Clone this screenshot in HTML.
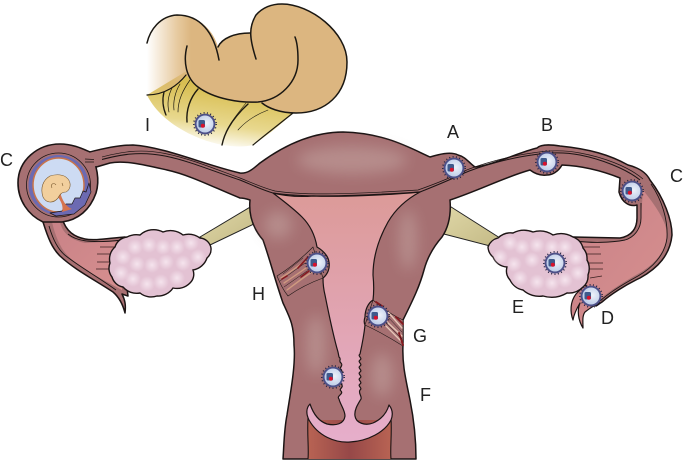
<!DOCTYPE html>
<html><head><meta charset="utf-8"><style>
html,body{margin:0;padding:0;background:#fff;width:684px;height:463px;overflow:hidden}
svg{display:block}
text{font-family:"Liberation Sans",sans-serif;font-size:18px;fill:#222}
</style></head><body>
<svg width="684" height="463" viewBox="0 0 684 463" xmlns="http://www.w3.org/2000/svg">
<defs>
<filter id="bl" x="-50%" y="-50%" width="200%" height="200%"><feGaussianBlur stdDeviation="7"/></filter>
<radialGradient id="eggG" cx="0.6" cy="0.45" r="0.6"><stop offset="0" stop-color="#eef2fa"/><stop offset="1" stop-color="#bccbe8"/></radialGradient>
<radialGradient id="blob"><stop offset="0" stop-color="#f6e6ef" stop-opacity=".95"/><stop offset="1" stop-color="#f6e6ef" stop-opacity="0"/></radialGradient>
<linearGradient id="cav" x1="0" y1="0" x2="0" y2="1"><stop offset="0" stop-color="#dc9a98"/><stop offset="1" stop-color="#e6aecb"/></linearGradient>
<linearGradient id="tan" x1="0" y1="0" x2="1" y2="0"><stop offset="0" stop-color="#dfb981" stop-opacity="0"/><stop offset="0.15" stop-color="#dfb981" stop-opacity="0.75"/><stop offset="0.22" stop-color="#dcb680"/><stop offset="1" stop-color="#dcb680"/></linearGradient>
<linearGradient id="yel" x1="0.6" y1="0.25" x2="0.4" y2="1"><stop offset="0" stop-color="#d8be52"/><stop offset="0.6" stop-color="#e8d88e"/><stop offset="1" stop-color="#ffffff"/></linearGradient>
<linearGradient id="lig" x1="0" y1="0" x2="1" y2="1"><stop offset="0" stop-color="#e0d8a8"/><stop offset="1" stop-color="#c4ba86"/></linearGradient>
<linearGradient id="vag" x1="0" y1="0" x2="1" y2="0"><stop offset="0" stop-color="#b86353"/><stop offset="0.5" stop-color="#964848"/><stop offset="1" stop-color="#b86353"/></linearGradient>
<linearGradient id="fim" x1="0" y1="0" x2="1" y2="1"><stop offset="0" stop-color="#c98287"/><stop offset="1" stop-color="#d68f8f"/></linearGradient>
<g id="egg">
<circle r="11.2" fill="none" stroke="#23233f" stroke-width="1.5" stroke-dasharray="1 2.4"/>
<circle r="10.4" fill="#4d5088"/>
<circle r="8.5" fill="url(#eggG)"/>
<rect x="-6.500" y="-4" width="6.500" height="7.500" rx="1.500" fill="#3f5a8c"/>
<circle cx="-2.200" cy="1.800" r="2" fill="#d8122c"/>
</g>
</defs>

<!-- Omentum / bowel -->
<path d="M147 95 C160 122 195 140 223 145 C235 147 245 147 253 145 C268 135 280 125 293 113 L267 100 L185 72 Z" fill="url(#yel)"/>
<g fill="none" stroke="#1e1a10" stroke-linecap="round">
<path d="M164 92 C162 100 163 108 166 115" stroke-width="1.3"/>
<path d="M172 88 C168 96 167 104 169 112" stroke-width="0.7"/>
<path d="M180 84 C175 92 173 102 174 110" stroke-width="0.7"/>
<path d="M190 80 C183 90 178 100 178 112" stroke-width="0.7"/>
<path d="M198 89 C190 98 186 110 187 122" stroke-width="1.4"/>
<path d="M246 103 C238 113 230 123 226 132" stroke-width="0.6"/>
<path d="M248 104 C235 116 225 130 222 145" stroke-width="1.4"/>
<path d="M268 110 C255 115 245 122 238 130" stroke-width="0.6"/>
<path d="M293 113 C278 125 265 135 253 145" stroke-width="1.2"/>
</g>
<path d="M147 43 C150 30 160 16 177 15 C200 15 214 32 218 47 C222 38 235 33 250 33 C250 15 265 4 282 4 C310 4 347 32 347 62 C347 95 325 113 296 113 C280 113 268 108 262 103 C245 102 225 102 210 94 C197 88 190 80 186 75 C178 85 165 95 147 95 Z" fill="url(#tan)"/>
<g fill="none" stroke="#1a1712" stroke-linecap="round">
<path d="M147 43 C150 30 160 16 177 15 C200 15 214 32 219 60" stroke-width="1.500"/>
<path d="M218 47 C222 38 235 33 250 33" stroke-width="1.500"/>
<path d="M256 59 C250 40 248 28 256 15 C263 7 272 4 282 4 C310 4 347 32 347 62 C347 95 325 113 296 113 C280 113 268 108 262 103" stroke-width="1.500"/>
<path d="M187 46 C183 62 186 78 198 87 C214 99 240 103 258 102 C280 100 298 82 298 60 C298 50 297 42 295 37" stroke-width="1.500"/>
<path d="M147 95 C165 95 178 85 186 75" stroke-width="1.200"/>
</g>

<!-- Ligaments -->
<path d="M200 237 L252 206 L254 224 L210 245 Z" fill="url(#lig)" stroke="#222" stroke-width="1"/>
<path d="M448 205 L500 238 L490 246 L440 233 Z" fill="url(#lig)" stroke="#222" stroke-width="1"/>

<!-- Left fimbria -->
<path d="M43 222 C48 238 52 248 60 256 C75 270 95 280 113 292 C120 298 123 305 125 313 C126 305 125 300 122 294 L128 296 L126 280 L125 237 C110 238 95 241 85 239 C75 237 66 232 62 218 Z" fill="#a87072" stroke="#1c1414" stroke-width="1.500" stroke-linejoin="round"/>
<path d="M52 222 L60 222 C62 232 70 240 85 243 L122 241 L122 290 C100 278 80 268 68 256 C60 248 55 235 52 222 Z" fill="url(#fim)"/>
<path d="M49 226 C53 240 58 250 66 256 C80 267 98 277 116 290" fill="none" stroke="#1c1414" stroke-width="0.9"/>
<path d="M68 234 C75 240 88 244 122 240" fill="none" stroke="#1c1414" stroke-width="0.9"/>
<g stroke="#3a2020" stroke-width="0.7"><path d="M100 247H117M97 254H113M97 262H112M96 269H111"/></g>

<!-- Main silhouette: tubes + uterus -->
<path d="M90 152 C105 148 120 145 133 145 C165 147 205 165 240 173 C248 174 254 168 260 163 C275 152 305 132 343 132 C385 133 410 148 430 157 C437 155 450 151 458 155 C466 157 469 163 475 167 C490 166 520 152 537 148 C540 145 548 144 560 146 C590 149 610 155 628 165 C640 168 647 174 650 180 C664 198 672 220 672 235 C670 255 658 268 640 278 C625 285 610 295 602 302 L596 306 L583 295 L587 280 L573 237 L620 238 C632 236 637 228 637 218 L637 205 C630 207 622 203 619 192 L620 178 C605 172 585 166 562 165 C558 172 552 175 547 175 C540 176 534 173 530 170 C505 177 480 190 450 200 C451 212 450 225 442 237 C435 245 428 255 424 270 C420 285 414 298 403 320 L403 345 C402 365 406 380 410 400 C414 420 416 440 416 459 L283 459 C284 445 284 430 287 415 C290 395 296 365 294 345 C294 325 290 318 283 303 C275 280 270 260 263 240 C250 225 249 210 250 200 C247 199 243 198 240 198 C215 188 190 175 167 170 C145 165 125 160 110 163 L93 168 Z" fill="#a67072" stroke="#1c1414" stroke-width="1.500" stroke-linejoin="round"/>

<!-- Soft highlights -->
<g filter="url(#bl)" fill="#bc9694" opacity=".75">
<ellipse cx="352" cy="160" rx="55" ry="14"/>
<ellipse cx="278" cy="225" rx="14" ry="14"/>
<ellipse cx="316" cy="345" rx="10" ry="30"/>
<ellipse cx="408" cy="240" rx="9" ry="30"/>
<ellipse cx="382" cy="375" rx="11" ry="22"/>
</g>

<!-- Right fimbria -->
<path d="M643 190 C655 205 667 222 667 235 C665 255 652 266 636 275 C622 283 606 293 596 303 L583 290 L588 275 L587 255 L576 242 C590 243 610 243 625 240 C635 237 641 228 641 218 Z" fill="url(#fim)"/>
<path d="M651 184 C662 200 668 220 667 238 C665 255 652 268 638 276 C625 283 610 292 600 301" fill="none" stroke="#1c1414" stroke-width="0.9"/>
<path d="M576 241 C590 243 610 243 625 240 C635 237 641 228 641 218 L641 203" fill="none" stroke="#1c1414" stroke-width="0.9"/>
<path d="M600 303 C595 305 590 308 585 312 C582 316 583 322 583 328 C578 320 577 310 580 303 C577 308 574 314 573 320 C570 312 570 302 576 294 L585 285 Z" fill="url(#fim)" stroke="#1c1414" stroke-width="1.200" stroke-linejoin="round"/>
<g stroke="#3a2020" stroke-width="0.7"><path d="M583 247H600M586 254H601M588 263H603M589 269H603M590 278L602 276"/></g>

<!-- Vagina -->
<path d="M308 420 L391 420 L391 459 L308 459 Z" fill="url(#vag)"/>
<path d="M308 418 C307 435 309 448 308 459 M391 418 C392 435 390 448 391 459" stroke="#1c1414" stroke-width="1.100" fill="none"/>

<!-- Cavity -->
<path d="M273 193 C285 196 300 197 313 196 C340 197 390 195 420 192 C405 200 395 210 388 222 C378 240 373 258 373 275 C374 285 374 292 373 300 C368 303 365 310 365 317 C364 320 364 323 365 325 C364 335 362 345 360 354 C357 356 363 358 360 360 C357 362 363 364 360 366 C357 368 363 370 360 372 C357 374 363 376 360 378 C357 380 363 382 360 384 C357 386 363 388 360 390 C358 393 362 396 361 399 C358 404 354 410 355 416 C356 423 365 426 373 423 C382 419 387 412 389 405 C393 410 393 415 391 420 C385 432 368 441 350 442 C335 443 318 436 309 420 C306 414 306 408 310 404 C313 413 318 421 327 424 C336 426 344 424 345 416 C345 410 340 404 339 399 C336 396 344 394 341 391 C338 389 345 387 341 384 C338 382 345 380 341 377 C338 375 345 373 341 370 C338 368 344 366 341 363 C338 361 342 359 339 357 L338 352 C333 335 328 310 325 295 C323 287 323 282 323 278 C328 274 330 268 329 262 C328 255 322 250 317 247 C315 235 310 225 302 217 C293 208 282 200 273 193 Z" fill="url(#cav)" stroke="#1c1414" stroke-width="1.200" stroke-linejoin="round"/>

<!-- Lumen lines -->
<path d="M93 162 C120 154 140 151 165 156 C190 161 215 172 240 180 C250 184 262 190 273 193 C300 197 340 197 420 192 C435 186 450 180 462 174 C480 166 510 158 532 155 C550 152 565 152 580 155 C600 159 625 168 640 180" fill="none" stroke="#1c1414" stroke-width="1"/>
<path d="M93 159.500 C120 151.500 140 148.500 165 153.500 C190 158.500 215 169 240 178 C250 182 262 187.500 275 191 C300 195 340 195 418 190 C435 184 450 178 462 172 C480 164 510 156 532 153 C550 150 565 150 580 153 C602 157 628 166 643 179" fill="none" stroke="#1c1414" stroke-width="0.7"/>

<!-- Tears -->
<path d="M277 276 C290 268 302 258 313 247 L323 278 C312 282 298 289 288 296 C283 290 280 283 277 276 Z" fill="#a67072" stroke="#1c1414" stroke-width="0.6"/>
<g fill="none" stroke-linecap="round">
<path d="M281 278 C290 272 300 265 308 259 M284 283 C293 277 302 271 310 265 M287 290 C295 284 304 277 312 272" stroke="#cf9a80" stroke-width="1.400"/>
<path d="M280 281 L305 263 M284 287 L307 271 M283 274 L303 258" stroke="#1c1414" stroke-width="0.5"/>
<path d="M298 268 L308 257 M301 277 L309 271 M282 279 L287 276" stroke="#85191f" stroke-width="1.600"/>
</g>
<path d="M373 300 C382 308 392 315 403 320 L403 346 C392 339 378 331 365 325 Z" fill="#a67072" stroke="#1c1414" stroke-width="0.6"/>
<g fill="none" stroke-linecap="round">
<path d="M388 312 L402 328 M385 320 L402 336 M386 326 L401 341" stroke="#e6c8b8" stroke-width="1.400"/>
<path d="M396 317 L403 324 M399 333 L403 345 M376 302 L382 306" stroke="#85191f" stroke-width="1.900"/>
<path d="M387 316 L402 332 M386 323 L402 339" stroke="#1c1414" stroke-width="0.5"/>
</g>

<!-- Left sac -->
<path d="M18 183 C18 160 38 144 60 144 C73 144 83 149 90 152 C97 165 100 180 96 193 C90 210 78 220 62 222 L43 222 C28 215 18 200 18 183 Z" fill="#a67072" stroke="#1c1414" stroke-width="1.600"/>
<path d="M86 153.500 L102 150 L102 164 L93 167 L87 165 Z" fill="#a67072"/>
<path d="M85 159 L94 159.500 M85 162 L94 162" stroke="#1c1414" stroke-width=".8"/>
<circle cx="58.500" cy="185" r="32" fill="none" stroke="#1c1414" stroke-width="0.8"/>
<circle cx="58.500" cy="185" r="30" fill="#6c6ab2"/>
<path d="M33 185 a25.500 27 0 1 1 51 0 a25.500 27 0 1 1 -51 0" fill="#cddbf3" stroke="#c9744a" stroke-width="1.500"/>
<path d="M89 183 L86 192 L83 191 L80 198 L75 198 L72 204 L66 204 L62 211 L50 213 L56 216 L74 214 L85 205 L91 192 Z" fill="#6c6ab2" stroke="#1c1414" stroke-width="0.7" stroke-linejoin="round"/>
<path d="M56 194 C60 200 64 205 62 212 L72 209 C66 207 62 200 60 192 Z" fill="#d5744e"/>
<path d="M50 176 C56 174 64 174 68 179 C72 184 70 190 66 192 C62 192 60 194 58 198 C53 204 46 203 43 197 C40 188 43 180 50 176 Z" fill="#f2cf9d" stroke="#7a5a30" stroke-width="0.6"/>
<path d="M52 188 C50 184 54 182 56 185 M62 183 L63 186" fill="none" stroke="#7a5a30" stroke-width=".6"/>

<!-- Ovaries -->
<path d="M127 237 A20 20 0 0 1 140 235 A20 20 0 0 1 163 232 A20 20 0 0 1 183 235 A20 20 0 0 1 200 238 A12 12 0 0 1 211 248 A12 12 0 0 1 207 258 A18 18 0 0 1 193 270 A12 12 0 0 1 190 283 A18 18 0 0 1 173 288 A18 18 0 0 1 157 296 A18 18 0 0 1 140 293 A18 18 0 0 1 123 287 A14 14 0 0 1 112 277 A14 14 0 0 1 110 263 A16 16 0 0 1 115 247 A14 14 0 0 1 127 237 Z" fill="#e3c2d3" stroke="#1c1414" stroke-width="1.400"/>
<g fill="url(#blob)">
<circle cx="135" cy="247" r="8"/><circle cx="149" cy="245" r="8"/><circle cx="163" cy="247" r="8"/><circle cx="177" cy="247" r="8"/><circle cx="191" cy="243" r="8"/>
<circle cx="123" cy="257" r="8"/><circle cx="137" cy="264" r="8"/><circle cx="152" cy="265" r="8"/><circle cx="166" cy="262" r="8"/><circle cx="183" cy="263" r="8"/><circle cx="198" cy="257" r="8"/>
<circle cx="121" cy="273" r="8"/><circle cx="133" cy="279" r="8"/><circle cx="147" cy="284" r="8"/><circle cx="161" cy="282" r="8"/><circle cx="177" cy="278" r="8"/>
</g>
<path d="M498 238 A18 18 0 0 1 513 233 A24 24 0 0 1 533 232 A24 24 0 0 1 553 235 A24 24 0 0 1 573 237 A16 16 0 0 1 583 248 A16 16 0 0 1 587 260 A18 18 0 0 1 588 275 A14 14 0 0 1 583 287 A20 20 0 0 1 567 293 A30 30 0 0 1 543 296 A24 24 0 0 1 523 290 A18 18 0 0 1 510 280 A14 14 0 0 1 507 267 A16 16 0 0 1 493 257 A14 14 0 0 1 488 247 A14 14 0 0 1 498 238 Z" fill="#e3c2d3" stroke="#1c1414" stroke-width="1.400"/>
<g fill="url(#blob)">
<circle cx="510" cy="243" r="8"/><circle cx="522" cy="247" r="8"/><circle cx="537" cy="245" r="8"/><circle cx="552" cy="247" r="8"/><circle cx="565" cy="247" r="8"/>
<circle cx="500" cy="257" r="8"/><circle cx="514" cy="264" r="8"/><circle cx="532" cy="260" r="8"/><circle cx="576" cy="258" r="8"/>
<circle cx="520" cy="278" r="8"/><circle cx="537" cy="282" r="8"/><circle cx="552" cy="283" r="8"/><circle cx="565" cy="280" r="8"/><circle cx="578" cy="273" r="8"/>
</g>

<!-- Eggs -->
<use href="#egg" x="205" y="124"/>
<use href="#egg" x="454" y="168"/>
<use href="#egg" x="547" y="162"/>
<use href="#egg" x="632" y="191"/>
<use href="#egg" x="555" y="263"/>
<use href="#egg" x="591" y="296"/>
<use href="#egg" x="317" y="263"/>
<use href="#egg" x="378" y="316"/>
<use href="#egg" x="333" y="377"/>

<!-- Labels -->
<text x="0" y="166">C</text>
<text x="447" y="138">A</text>
<text x="541" y="131">B</text>
<text x="670" y="182">C</text>
<text x="512" y="313">E</text>
<text x="601" y="324">D</text>
<text x="413" y="342">G</text>
<text x="420" y="401">F</text>
<text x="252" y="300">H</text>
<text x="145" y="131">I</text>
</svg>
</body></html>
